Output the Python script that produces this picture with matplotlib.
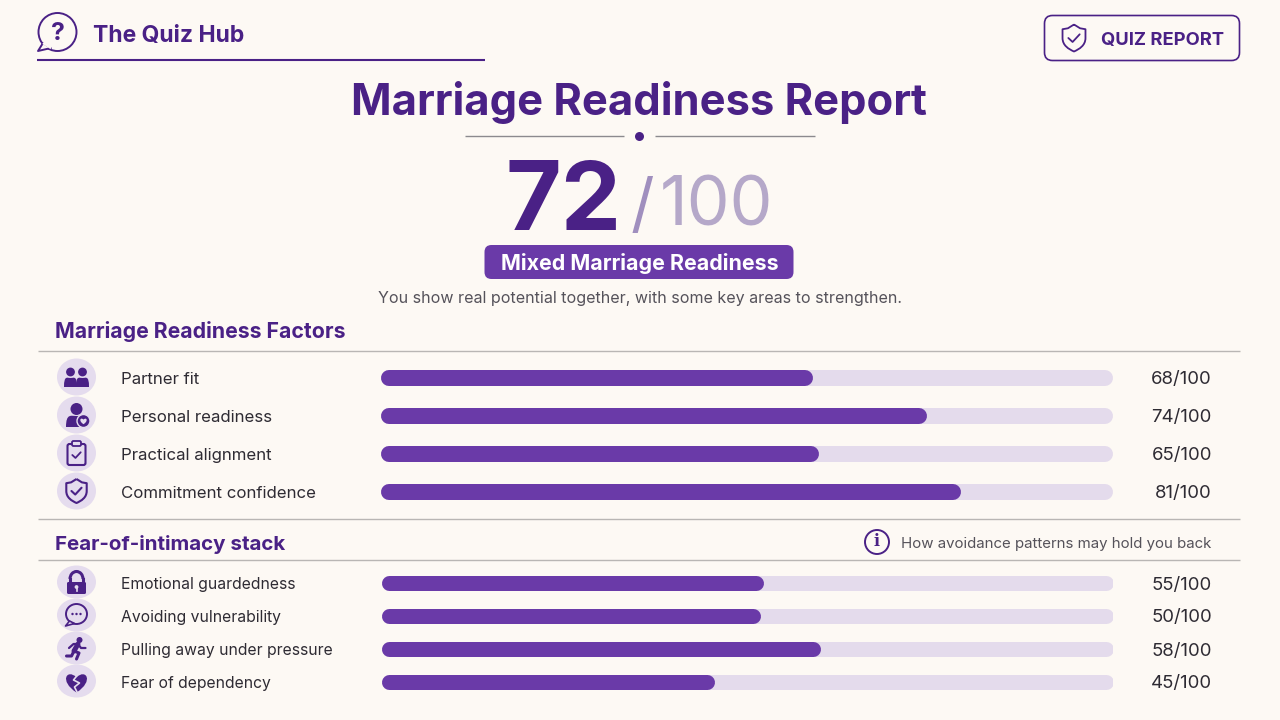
import matplotlib
matplotlib.use('Agg')
import matplotlib.pyplot as plt
from matplotlib.patches import Circle, Ellipse, FancyBboxPatch, PathPatch, Arc, Polygon
from matplotlib.path import Path

plt.rcParams['font.family'] = ['Inter', 'DejaVu Sans']

# values
factor_names = ['Partner fit', 'Personal readiness', 'Practical alignment', 'Commitment confidence']
factor_labels = ['68/100', '74/100', '65/100', '81/100']
factor_fill = [59.0, 74.6, 59.8, 79.2]   # drawn bar length, % of track
factor_y = [378, 416, 454, 492]

stack_names = ['Emotional guardedness', 'Avoiding vulnerability', 'Pulling away under pressure', 'Fear of dependency']
stack_labels = ['55/100', '50/100', '58/100', '45/100']
stack_fill = [52.3, 51.9, 60.1, 45.6]
stack_y = [583, 616, 649, 682]

BG = '#FDF9F4'
DARK = '#4A2186'
MID = '#6A3AA8'
TRACK = '#E4DBEC'
ICON_BG = '#E5DCEE'
GREY = '#55525A'
INK = '#2E2B33'
RULE = '#B9B6B4'

fig = plt.figure(figsize=(12.8, 7.2), dpi=100, facecolor=BG)
ax = fig.add_axes([0, 0, 1, 1])
ax.set_xlim(0, 1280)
ax.set_ylim(720, 0)
ax.axis('off')

bars = fig.add_axes([381 / 1280, 0, 732 / 1280, 1])
bars.set_xlim(0, 100)
bars.set_ylim(720, 0)
bars.axis('off')
bars.patch.set_alpha(0)


def draw_bars(ys, fills, px):
    r = px / 2 / 7.32
    lw = px * 0.72
    for y, v in zip(ys, fills):
        bars.plot([r, 100 - r], [y, y], color=TRACK, lw=lw, solid_capstyle='round')
        bars.plot([r, v - r], [y, y], color=MID, lw=lw, solid_capstyle='round')


def hline(x0, x1, y, color=RULE, lw=1.0):
    ax.plot([x0, x1], [y, y], color=color, lw=lw, solid_capstyle='butt')


def shape(verts, codes=None, **kw):
    ax.add_patch(PathPatch(Path(verts, codes), **kw))


def check(cx, cy, s, lw):
    ax.plot([cx - s, cx - .25 * s, cx + s], [cy, cy + .7 * s, cy - .65 * s], color=DARK, lw=lw,
            solid_capstyle='round', solid_joinstyle='round')


def shield(cx, cy, s, lw, fc='none'):
    v = [(cx, cy - s), (cx + .45 * s, cy - .72 * s), (cx + .85 * s, cy - .65 * s),
         (cx + .85 * s, cy), (cx + .85 * s, cy + .55 * s), (cx + .4 * s, cy + .82 * s), (cx, cy + s),
         (cx - .4 * s, cy + .82 * s), (cx - .85 * s, cy + .55 * s), (cx - .85 * s, cy),
         (cx - .85 * s, cy - .65 * s), (cx - .45 * s, cy - .72 * s), (cx, cy - s)]
    c = [Path.MOVETO, Path.LINETO, Path.LINETO, Path.LINETO, Path.CURVE4, Path.CURVE4, Path.CURVE4,
         Path.CURVE4, Path.CURVE4, Path.CURVE4, Path.LINETO, Path.LINETO, Path.LINETO]
    shape(v, c, fc=fc, ec=DARK, lw=lw, joinstyle='round')
    check(cx, cy, s * .42, lw)


def person(cx, head_y, head_r, w, top, bottom):
    ax.add_patch(Circle((cx, head_y), head_r, fc=DARK, ec='none'))
    v = [(cx - w, bottom), (cx - w, top - 3), (cx - w * .5, top), (cx, top),
         (cx + w * .5, top), (cx + w, top - 3), (cx + w, bottom), (cx - w, bottom)]
    c = [Path.MOVETO, Path.CURVE4, Path.CURVE4, Path.CURVE4, Path.CURVE4, Path.CURVE4, Path.CURVE4, Path.CLOSEPOLY]
    shape(v, c, fc=DARK, ec='none')


def heart(cx, cy, s, **kw):
    v = [(cx, cy + s), (cx - 1.7 * s, cy - .1 * s), (cx - .9 * s, cy - 1.3 * s), (cx, cy - .45 * s),
         (cx + .9 * s, cy - 1.3 * s), (cx + 1.7 * s, cy - .1 * s), (cx, cy + s)]
    c = [Path.MOVETO] + [Path.CURVE4] * 6
    shape(v, c, **kw)


def icon_people(cx, cy):
    person(cx - 6, cy - 5, 4.4, 6.5, cy + 1, cy + 10)
    person(cx + 6, cy - 5, 4.4, 6.5, cy + 1, cy + 10)


def icon_person(cx, cy):
    person(cx, cy - 6, 6, 10.5, cy + 1, cy + 12)
    ax.add_patch(Circle((cx + 7, cy + 6), 6.5, fc=DARK, ec=ICON_BG, lw=1.0))
    heart(cx + 7, cy + 6, 3.2, fc=ICON_BG, ec='none')


def icon_clip(cx, cy):
    ax.add_patch(FancyBboxPatch((cx - 9, cy - 9), 18, 21, boxstyle='round,pad=0,rounding_size=2',
                                fc='none', ec=DARK, lw=1.5))
    ax.add_patch(FancyBboxPatch((cx - 4.5, cy - 12), 9, 5, boxstyle='round,pad=0,rounding_size=1.5',
                                fc=ICON_BG, ec=DARK, lw=1.3))
    check(cx, cy + 2, 4.2, 1.3)


def icon_lock(cx, cy):
    ax.add_patch(Arc((cx, cy - 3), 13, 15, theta1=180, theta2=360, color=DARK, lw=2.2))
    ax.plot([cx - 6.5, cx - 6.5], [cy - 3, cy + 1], color=DARK, lw=2.2)
    ax.plot([cx + 6.5, cx + 6.5], [cy - 3, cy + 1], color=DARK, lw=2.2)
    ax.add_patch(FancyBboxPatch((cx - 9.5, cy), 19, 12, boxstyle='round,pad=0,rounding_size=1.5',
                                fc=DARK, ec='none'))
    ax.add_patch(Circle((cx, cy + 5), 1.9, fc=ICON_BG, ec='none'))
    ax.plot([cx, cx], [cy + 5, cy + 9], color=ICON_BG, lw=1.2)


def icon_chat(cx, cy):
    ax.add_patch(Ellipse((cx, cy - 1), 21, 20, fc='none', ec=DARK, lw=1.4))
    ax.add_patch(Polygon([(cx - 7, cy + 6), (cx - 11, cy + 11), (cx - 2, cy + 8.5)], fc=ICON_BG, ec=DARK, lw=1.2,
                         joinstyle='round'))
    for dx in (-4, 0, 4):
        ax.add_patch(Circle((cx + dx, cy - 1), 1.2, fc=DARK, ec='none'))


def icon_run(cx, cy):
    ax.add_patch(Circle((cx + 3, cy - 8), 3, fc=DARK, ec='none'))
    kw = dict(color=DARK, solid_capstyle='round', solid_joinstyle='round')
    ax.plot([cx + 1.5, cx - 2.5], [cy - 4, cy + 3], lw=3.6, **kw)
    ax.plot([cx - 7.5, cx - 3, cx + 1.5, cx + 4.5, cx + 9], [cy, cy - 4, cy - 4, cy, cy], lw=1.6, **kw)
    ax.plot([cx - 2.5, cx + 2.5, cx, cx], [cy + 3, cy + 5, cy + 11, cy + 11], lw=2.2, **kw)
    ax.plot([cx - 2.5, cx - 5, cx - 10], [cy + 3, cy + 8, cy + 8], lw=2.2, **kw)


def icon_heart(cx, cy):
    heart(cx, cy + 1, 10.5, fc=DARK, ec='none')
    ax.plot([cx + 1, cx - 3, cx + 3, cx - 2, cx + 1], [cy - 6, cy - 1, cy + 2, cy + 6, cy + 12],
            color=ICON_BG, lw=1.2)


def icon_shield(cx, cy):
    shield(cx, cy, 12, 1.5)


# header
ax.add_patch(Circle((57.5, 32), 19, fc=BG, ec=DARK, lw=1.4))
ax.add_patch(Polygon([(43, 43), (38, 51), (51, 48)], fc=BG, ec=DARK, lw=1.4, joinstyle='round'))
ax.plot([44.5, 50], [43.5, 47], color=BG, lw=2.2)
ax.text(57.5, 33, '?', color=DARK, fontsize=18, fontweight='bold', ha='center', va='center')
ax.text(93, 36, 'The Quiz Hub', color=DARK, fontsize=16.5, fontweight='bold', va='center')
hline(37, 485, 59.5, DARK, 1.5)

ax.add_patch(FancyBboxPatch((1044.5, 15.5), 195, 45, boxstyle='round,pad=0,rounding_size=8',
                            fc='none', ec=DARK, lw=1.2))
shield(1074, 38, 13.5, 1.3)
ax.text(1162.5, 40.5, 'QUIZ REPORT', color=DARK, fontsize=13.2, fontweight='bold', ha='center', va='center')

# title and score
ax.text(639, 102, 'Marriage Readiness Report', color=DARK, fontsize=31.3, fontweight='bold', ha='center', va='center')
hline(465, 624, 136, '#8C8A8E', 1.0)
hline(655, 815, 136, '#8C8A8E', 1.0)
ax.add_patch(Circle((639.5, 136.5), 4.5, fc=DARK, ec='none'))

ax.text(564, 205, '72', color=DARK, fontsize=69, fontweight='bold', ha='center', va='center')
ax.text(642, 209, '/', color='#A08FBE', fontsize=47, ha='center', va='center')
ax.text(716.5, 208, '100', color='#B5A8C9', fontsize=49, ha='center', va='center')

ax.add_patch(FancyBboxPatch((484.5, 245), 309, 34, boxstyle='round,pad=0,rounding_size=7', fc=MID, ec='none'))
ax.text(639.5, 264, 'Mixed Marriage Readiness', color='white', fontsize=15.4, fontweight='bold', ha='center', va='center')
ax.text(640.5, 299, 'You show real potential together, with some key areas to strengthen.', color=GREY,
        fontsize=11.55, ha='center', va='center')

# sections
ax.text(55, 332, 'Marriage Readiness Factors', color=DARK, fontsize=15.3, fontweight='bold', va='center')
hline(38, 1240, 351)
hline(38, 1240, 519)
ax.text(55, 544, 'Fear-of-intimacy stack', color=DARK, fontsize=14.8, fontweight='bold', va='center')
hline(38, 1240, 560)

ax.add_patch(Circle((877, 542), 12, fc='none', ec=DARK, lw=1.4))
ax.text(877, 542, 'i', color=DARK, fontsize=11.5, fontweight='bold', family='DejaVu Serif', ha='center', va='center')
ax.text(1211, 544, 'How avoidance patterns may hold you back', color=GREY, fontsize=10.8, ha='right', va='center')

# rows
draw_bars(factor_y, factor_fill, 16)
draw_bars(stack_y, stack_fill, 15)

factor_icons = [icon_people, icon_person, icon_clip, icon_shield]
stack_icons = [icon_lock, icon_chat, icon_run, icon_heart]
for names, labels, ys, icons, h, fs in [(factor_names, factor_labels, factor_y, factor_icons, 37, 12.1),
                                        (stack_names, stack_labels, stack_y, stack_icons, 33, 11.3)]:
    for name, label, y, icon in zip(names, labels, ys, icons):
        ax.add_patch(Ellipse((76.5, y - 1), 39, h, fc=ICON_BG, ec='none'))
        icon(76.5, y - 1)
        ax.text(121, y + 1.5, name, color=INK, fontsize=fs, va='center')
        ax.text(1212, y + 2, label, color=INK, fontsize=13.4, ha='right', va='center')

fig.savefig('out.png', dpi=100, facecolor=BG)
